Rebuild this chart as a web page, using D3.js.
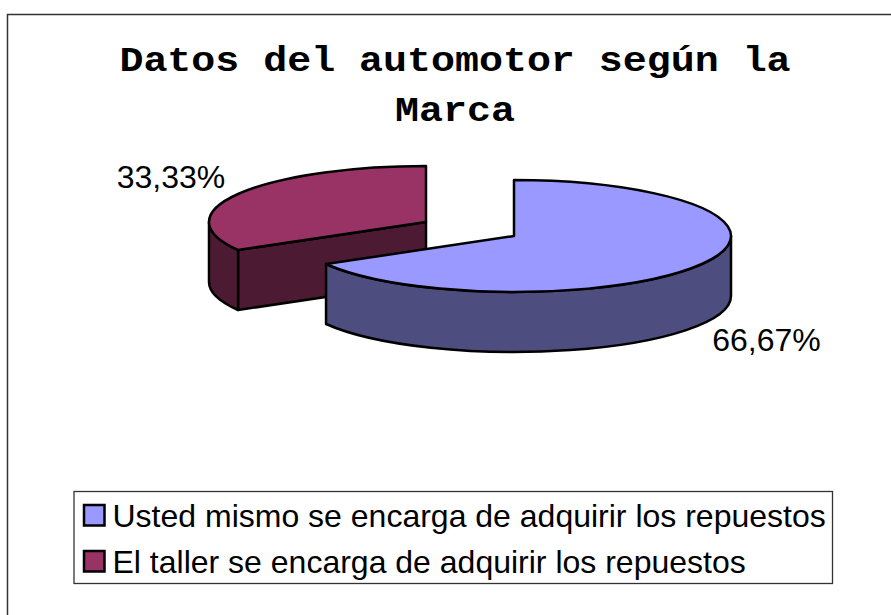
<!DOCTYPE html>
<html>
<head>
<meta charset="utf-8">
<script src="https://cdn.jsdelivr.net/npm/d3@7"></script>
<style>
  html, body { margin: 0; padding: 0; background: #fff; overflow: hidden; }
  svg { display: block; }
</style>
</head>
<body>
<svg id="chart" width="891" height="615"></svg>
<script>
var titleLines = ["Datos del automotor según la", "Marca"];
var categories = ["Usted mismo se encarga de adquirir los repuestos", "El taller se encarga de adquirir los repuestos"];
var values = [66.67, 33.33];
var valueLabels = ["66,67%", "33,33%"];
var topColors = ["#9999ff", "#993366"];
var wallColors = ["#4d4d80", "#4d1a33"];

var svg = d3.select("#chart");

// plot layout
var rx = 217, ry = 56, depth = 60;
var centers = [[514, 236], [426, 222]];
var labelPos = [[766.5, 351], [171, 188]];

// the outer frame runs off the right and bottom of the picture
svg.append("rect")
    .attr("x", 7.5).attr("y", 14.5)
    .attr("width", 900).attr("height", 640)
    .attr("fill", "#fff").attr("stroke", "#333").attr("stroke-width", 1.5);

svg.selectAll(".title").data(titleLines)
    .enter().append("text")
    .attr("class", "title")
    .attr("transform", function(d, i) { return "translate(455," + (71 + i * 49.5) + ") scale(1.11,1)"; })
    .attr("text-anchor", "middle")
    .style("font", "bold 36px 'Liberation Mono'")
    .text(function(d) { return d; });

var pie = d3.pie().sort(null);
var slices = pie(values);

function pt(c, a, dy) {
    return [c[0] + rx * Math.sin(a), c[1] - ry * Math.cos(a) + (dy || 0)];
}

function arcTo(c, a0, a1, dy, sweep) {
    var p = pt(c, a1, dy);
    var large = Math.abs(a1 - a0) > Math.PI ? 1 : 0;
    return "A" + rx + "," + ry + " 0 " + large + " " + sweep + " " + p[0] + "," + p[1];
}

function topPath(c, s) {
    return "M" + c + "L" + pt(c, s.startAngle) + arcTo(c, s.startAngle, s.endAngle, 0, 1) + "Z";
}

// outer wall, only the part facing the viewer
function wallPath(c, s) {
    var a0 = Math.max(s.startAngle, Math.PI / 2);
    var a1 = Math.min(s.endAngle, 3 * Math.PI / 2);
    return "M" + pt(c, a0) + arcTo(c, a0, a1, 0, 1) +
        "L" + pt(c, a1, depth) + arcTo(c, a1, a0, depth, 0) + "Z";
}

// cut face from the center out to the rim
function cutPath(c, a) {
    return "M" + c + "L" + pt(c, a) + "L" + pt(c, a, depth) + "L" + [c[0], c[1] + depth] + "Z";
}

// red slice sits behind the blue one
[1, 0].forEach(function(i) {
    var s = slices[i], c = centers[i];
    var g = svg.append("g")
        .attr("stroke", "#000").attr("stroke-width", 2.5).attr("stroke-linejoin", "round");
    if (i === 1) {
        g.append("path").attr("d", cutPath(c, s.startAngle)).attr("fill", wallColors[i]);
    }
    g.append("path").attr("d", wallPath(c, s)).attr("fill", wallColors[i]);
    g.append("path").attr("d", topPath(c, s)).attr("fill", topColors[i]);
});

svg.selectAll(".value").data(valueLabels)
    .enter().append("text")
    .attr("class", "value")
    .attr("x", function(d, i) { return labelPos[i][0]; })
    .attr("y", function(d, i) { return labelPos[i][1]; })
    .attr("text-anchor", "middle")
    .style("font", "32px 'Liberation Sans'")
    .text(function(d) { return d; });

var legend = svg.append("g");
legend.append("rect")
    .attr("x", 74).attr("y", 491.5).attr("width", 758.5).attr("height", 92)
    .attr("fill", "#fff").attr("stroke", "#333").attr("stroke-width", 1.3);

var rows = legend.selectAll(".row").data(categories)
    .enter().append("g")
    .attr("class", "row")
    .attr("transform", function(d, i) { return "translate(0," + (i * 46) + ")"; });
rows.append("rect")
    .attr("x", 84).attr("y", 505).attr("width", 20.5).attr("height", 20.5)
    .attr("fill", function(d, i) { return topColors[i]; })
    .attr("stroke", "#000").attr("stroke-width", 2.5);
rows.append("text")
    .attr("x", 112.5).attr("y", 526.5)
    .style("font", "32px 'Liberation Sans'")
    .text(function(d) { return d; });
</script>
</body>
</html>
